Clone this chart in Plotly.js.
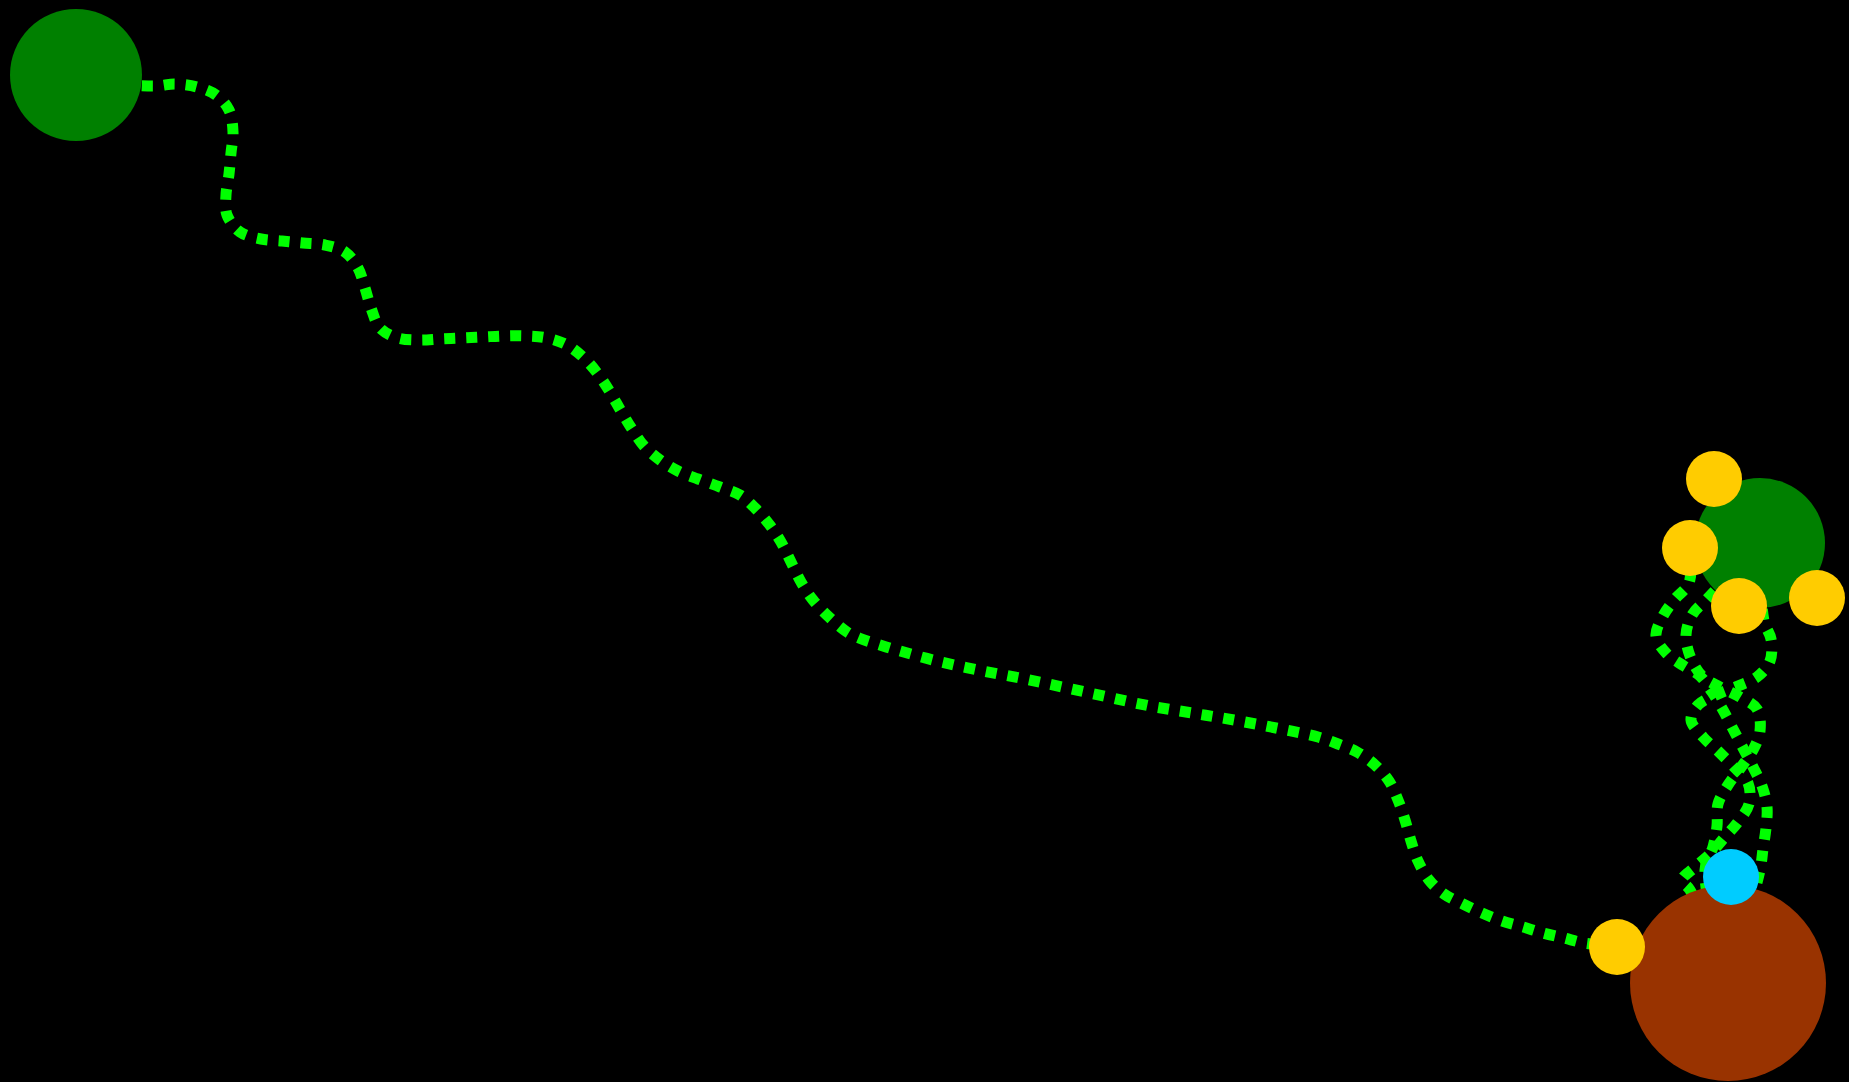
<!DOCTYPE html>
<html>
<head>
<meta charset="utf-8">
<script src="https://cdn.plot.ly/plotly-3.0.1.min.js"></script>
<style>
  html, body { margin: 0; padding: 0; background: #000; overflow: hidden; }
  #chart { width: 1849px; height: 1082px; }
</style>
</head>
<body>
<div id="chart"></div>
<script>
// Long route from the top-left start node to the bottom-right node
const longPathX = [76, 154, 175, 197, 216, 229, 233, 231, 229, 226, 227, 240, 261, 282, 303, 325, 345, 358, 365, 371, 380, 398, 419, 440, 462, 483, 504, 526, 547, 567, 584, 598, 610, 621, 632, 644, 660, 678, 698, 720, 740, 755, 769, 781, 791, 801, 813, 829, 847, 859, 880, 900, 941, 983, 1025, 1067, 1108, 1150, 1192, 1234, 1276, 1318, 1338, 1357, 1375, 1389, 1398, 1405, 1411, 1418, 1429, 1444, 1463, 1482, 1502, 1523, 1543, 1564, 1584, 1617, 1728];
const longPathY = [80, 86, 84, 87, 95, 110, 132, 153, 174, 195, 215, 232, 239, 241, 243, 245, 252, 268, 288, 308, 328, 338, 340, 339, 338, 337, 336, 336, 338, 345, 358, 374, 392, 411, 429, 446, 460, 471, 479, 487, 495, 508, 524, 542, 562, 582, 600, 617, 632, 638, 645, 651, 662, 671, 679, 688, 697, 706, 713, 720, 728, 737, 744, 752, 765, 781, 800, 820, 841, 861, 880, 894, 904, 913, 921, 927, 933, 938, 943, 947, 983];

// Three braided routes in the right-hand cluster
const route1X = [1690, 1689, 1675, 1663, 1656, 1667, 1684, 1700, 1712, 1723, 1733, 1743, 1753, 1762, 1767, 1766, 1763, 1760, 1728];
const route1Y = [548, 583, 599, 616, 636, 654, 666, 676, 692, 710, 729, 748, 767, 786, 807, 828, 849, 870, 983];

const route2X = [1760, 1707, 1692, 1686, 1690, 1702, 1720, 1740, 1757, 1760, 1753, 1742, 1728, 1718, 1717, 1713, 1705, 1728];
const route2Y = [543, 599, 615, 635, 656, 676, 687, 697, 709, 731, 750, 766, 785, 804, 826, 847, 870, 983];

const route3X = [1760, 1764, 1771, 1770, 1757, 1738, 1718, 1698, 1691, 1703, 1719, 1733, 1748, 1749, 1738, 1724, 1711, 1694, 1682, 1690, 1728];
const route3Y = [543, 621, 639, 661, 677, 686, 694, 705, 720, 737, 752, 766, 783, 804, 822, 838, 853, 868, 880, 890, 983];

// Nodes
const bigNodeX = [76, 1760, 1728];
const bigNodeY = [75, 543, 983];
const yellowNodeX = [1714, 1690, 1739, 1817, 1617];
const yellowNodeY = [479, 548, 606, 598, 947];
const cyanNodeX = [1731];
const cyanNodeY = [877];

const lineStyle = { color: '#00FF00', width: 11, dash: 'dot', shape: 'spline', smoothing: 1 };

function routeTrace(x, y) {
  return { type: 'scatter', mode: 'lines', x: x, y: y, line: lineStyle, hoverinfo: 'skip', cliponaxis: false };
}

const traces = [
  routeTrace(longPathX, longPathY),
  routeTrace(route1X, route1Y),
  routeTrace(route2X, route2Y),
  routeTrace(route3X, route3Y),
  {
    type: 'scatter', mode: 'markers', x: bigNodeX, y: bigNodeY, cliponaxis: false,
    marker: { size: [132, 130, 196], color: ['#008000', '#008000', '#993300'], opacity: 1, line: { width: 0 } },
    hoverinfo: 'skip'
  },
  {
    type: 'scatter', mode: 'markers', x: yellowNodeX, y: yellowNodeY, cliponaxis: false,
    marker: { size: 56, color: '#FFCC00', opacity: 1, line: { width: 0 } },
    hoverinfo: 'skip'
  },
  {
    type: 'scatter', mode: 'markers', x: cyanNodeX, y: cyanNodeY, cliponaxis: false,
    marker: { size: 56, color: '#00CCFF', opacity: 1, line: { width: 0 } },
    hoverinfo: 'skip'
  }
];

const layout = {
  width: 1849,
  height: 1082,
  margin: { l: 0, r: 0, t: 0, b: 0, pad: 0 },
  paper_bgcolor: '#000000',
  plot_bgcolor: '#000000',
  showlegend: false,
  hovermode: false,
  xaxis: { range: [0, 1849], visible: false, showgrid: false, zeroline: false, fixedrange: true },
  yaxis: { range: [1082, 0], visible: false, showgrid: false, zeroline: false, fixedrange: true }
};

Plotly.newPlot('chart', traces, layout, { displayModeBar: false, staticPlot: true });
</script>
</body>
</html>
